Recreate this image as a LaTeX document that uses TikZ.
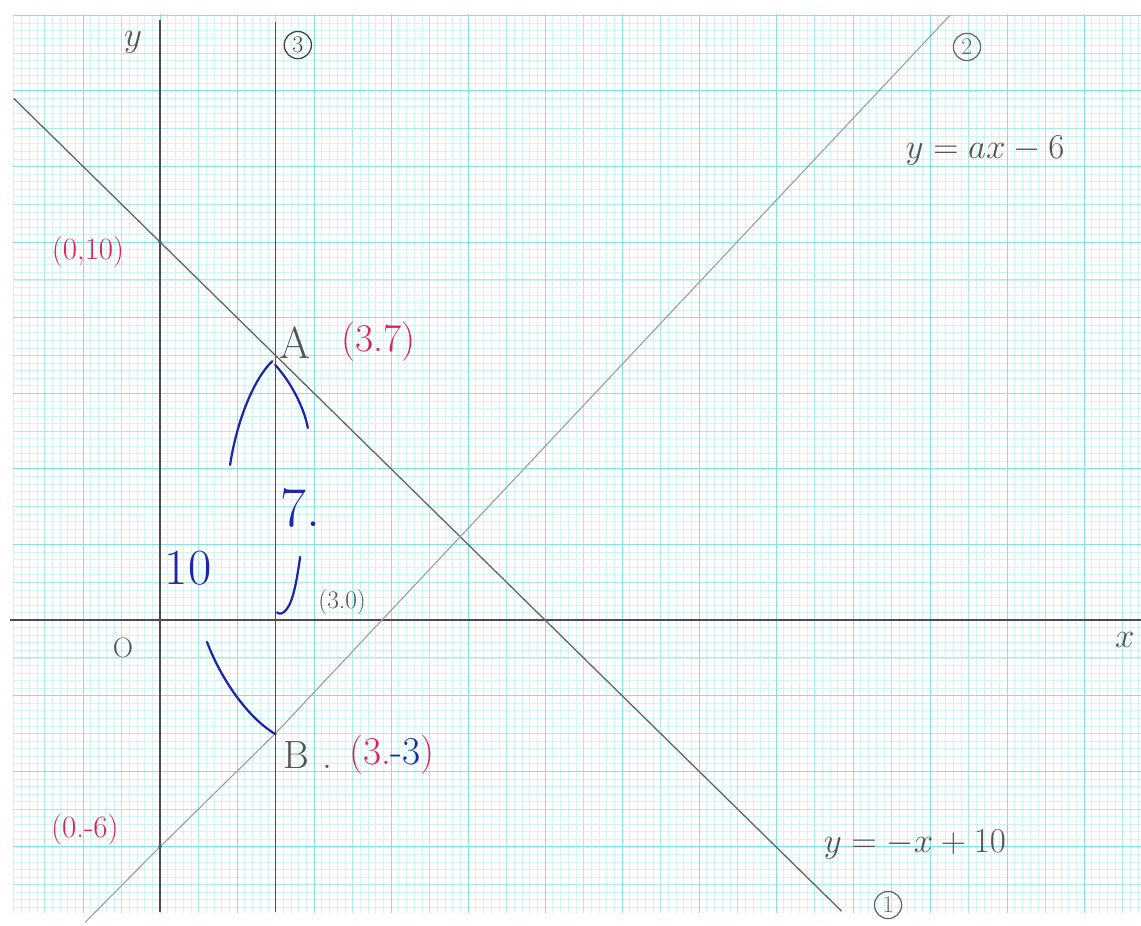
\documentclass[tikz,border=0pt]{standalone}
\usepackage{fontspec}
\usetikzlibrary{positioning}

\definecolor{pen}{RGB}{85,85,85}
\definecolor{inkred}{RGB}{222,32,88}
\definecolor{inkblue}{RGB}{28,38,168}
\definecolor{gridfine}{RGB}{208,243,243}
\definecolor{gridmid}{RGB}{172,234,234}
\definecolor{gridmajor}{RGB}{132,224,226}

\tikzstyle{finegrid} = [draw=gridfine, line width=0.35pt, step=0.2]
\tikzstyle{midgrid} = [draw=gridmid, line width=0.5pt, step=1]
\tikzstyle{majorgrid} = [draw=gridmajor, line width=0.7pt, step=2]
\tikzstyle{axis} = [draw=black!70, line width=1.2pt]
\tikzstyle{pencilline} = [draw=black!62, line width=0.9pt]
\tikzstyle{faintline} = [draw=black!38, line width=0.8pt]
\tikzstyle{bluestroke} = [draw=inkblue, line width=1.6pt, line cap=round]
\tikzstyle{pencil} = [text=pen, inner sep=0pt]
\tikzstyle{redink} = [text=inkred, inner sep=0pt]
\tikzstyle{blueink} = [text=inkblue, inner sep=0pt]
\tikzstyle{circled} = [
    circle,
    draw=black!75,
    text=black!75,
    line width=0.9pt,
    inner sep=0pt,
    minimum size=0.68cm,
    font=\fontsize{17}{20}\selectfont
]

\begin{document}
\begin{tikzpicture}[x=0.9625cm, y=0.945cm]

\useasboundingbox (-4.156,-8.069) rectangle (25.48,16.402);

% graph paper
\begin{scope}
\clip (-3.82,-7.75) rectangle (25.48,16.01);
\draw [finegrid] (-4,-8) grid (26,17);
\draw [midgrid] (-4,-8) grid (26,17);
\draw [majorgrid] (-4,-8) grid (26,17);
\end{scope}

% points
\coordinate (O) at (0,0);
\coordinate (A) at (3,7);
\coordinate (B) at (3,-3);
\coordinate (C) at (3,0);
\coordinate (D) at (0,10);
\coordinate (E) at (0,-6);

% ends of the lines
\coordinate (xl) at (-3.9,0);
\coordinate (xr) at (25.48,0);
\coordinate (yb) at (0,-7.72);
\coordinate (yt) at (0,15.87);
\coordinate (l3b) at (3,-7.72);
\coordinate (l3t) at (3,15.82);
\coordinate (l1t) at (-3.8,13.8);
\coordinate (l1b) at (17.7,-7.7);
\coordinate (l2b) at (-1.95,-8.0);
\coordinate (l2t) at (20.52,16.0);

\draw [axis] (xl) -- (xr);
\draw [axis] (yb) -- (yt);
\draw [axis] (l3b) -- (l3t);
\draw [pencilline] (l1t) -- (D) -- (A) -- (l1b);
\draw [faintline] (l2b) -- (E) -- (B) -- (l2t);

\fill [pen] (D) circle (1.3pt);
\fill [pen] (E) circle (1.3pt);

% axis names
\node (ylbl) [pencil, font=\fontsize{30}{34}\selectfont] at (-0.70,15.29) {$y$};

\node (xlbl) [pencil, font=\fontsize{32}{36}\selectfont] at (25.06,-0.53) {$x$};

\node (olbl) [pencil, font=\fontsize{20}{24}\selectfont] at (-0.96,-0.74) {O};

% line numbers
\node (c3) [circled] at (3.58,15.21) {3};

\node (c2) [circled, draw=black!60, text=black!60] at (20.96,15.16) {2};

\node (c1) [circled, draw=black!60, text=black!60] at (18.91,-7.54) {1};

\node (eq2) [pencil, font=\fontsize{28}{32}\selectfont] at (21.43,12.43) {$y=ax-6$};

\node (eq1) [pencil, font=\fontsize{26}{30}\selectfont] at (19.61,-5.95) {$y=-x+10$};

% points
\node (lblD) [redink, font=\fontsize{22}{26}\selectfont] at (-1.87,9.74) {(0,10)};

\node (lblE) [redink, font=\fontsize{22}{26}\selectfont] at (-1.95,-5.56) {(0.-6)};

\node (lblA) [pencil, font=\fontsize{32}{36}\selectfont] at (3.51,7.35) {A};

\node (lblAc) [redink, font=\fontsize{28}{32}\selectfont, right=0.75cm of lblA] {(3.7)};

\node (lblB) [pencil, font=\fontsize{28}{32}\selectfont] at (3.85,-3.57) {B\,\,.};

\node (lblBc) [redink, font=\fontsize{28}{32}\selectfont, right=0.4cm of lblB]
{(3.\textcolor{inkblue}{-3})};

\node (lblC) [pencil, font=\fontsize{18}{22}\selectfont] at (4.73,0.48) {(3.0)};

% lengths
\node (len7) [blueink, font=\fontsize{40}{44}\selectfont] at (3.64,2.96) {7.};

\node (len10) [blueink, font=\fontsize{36}{40}\selectfont] at (0.73,1.38) {10};

\draw [bluestroke] (1.82,4.1) .. controls (2.0,5.3) and (2.45,6.4) .. (2.92,6.85);
\draw [bluestroke] (2.99,6.75) .. controls (3.4,6.3) and (3.75,5.6) .. (3.84,5.08);
\draw [bluestroke] (3.64,1.67) .. controls (3.55,1.0) and (3.45,0.5) .. (3.3,0.3)
    .. controls (3.2,0.15) and (3.1,0.15) .. (3.04,0.2);
\draw [bluestroke] (1.22,-0.58) .. controls (1.6,-1.6) and (2.3,-2.6) .. (3.0,-3.02);

\end{tikzpicture}
\end{document}
